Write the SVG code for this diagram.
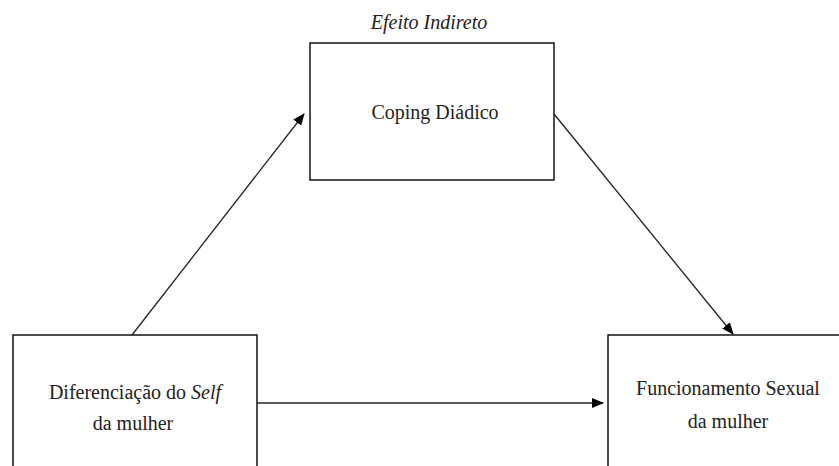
<svg xmlns="http://www.w3.org/2000/svg" width="839" height="466" viewBox="0 0 839 466">
<style>
.box{fill:#fff;stroke:#000;stroke-width:1.4}
.t{font-family:"Liberation Serif","Times New Roman",serif;font-size:20px;fill:#222;text-anchor:middle}
.it{font-style:italic}
.c{stroke:#222;stroke-width:1.3;fill:none}
</style>
<defs>
<marker id="ah" markerWidth="12" markerHeight="10" refX="11" refY="5" orient="auto" markerUnits="userSpaceOnUse">
<path d="M0,0 L12,5 L0,10 Z" fill="#000"/>
</marker>
</defs>
<rect width="839" height="466" fill="#fff"/>
<text class="t it" x="429" y="29">Efeito Indireto</text>
<g id="coping">
<rect class="box" x="310" y="43" width="244" height="137"/>
<text class="t" x="435" y="119">Coping Diádico</text>
</g>
<g id="diferenciacao">
<rect class="box" x="13" y="335" width="244" height="140"/>
<text class="t" x="135" y="399">Diferenciação do <tspan class="it">Self</tspan></text>
<text class="t" x="133" y="430">da mulher</text>
</g>
<g id="funcionamento">
<rect class="box" x="608" y="335" width="240" height="140"/>
<text class="t" x="728" y="395">Funcionamento Sexual</text>
<text class="t" x="728" y="428">da mulher</text>
</g>
<g id="connectors">
<line class="c" x1="132" y1="335" x2="304" y2="114" marker-end="url(#ah)"/>
<line class="c" x1="554" y1="114" x2="733" y2="334" marker-end="url(#ah)"/>
<line class="c" x1="257" y1="403" x2="603" y2="403" marker-end="url(#ah)"/>
</g>
</svg>
